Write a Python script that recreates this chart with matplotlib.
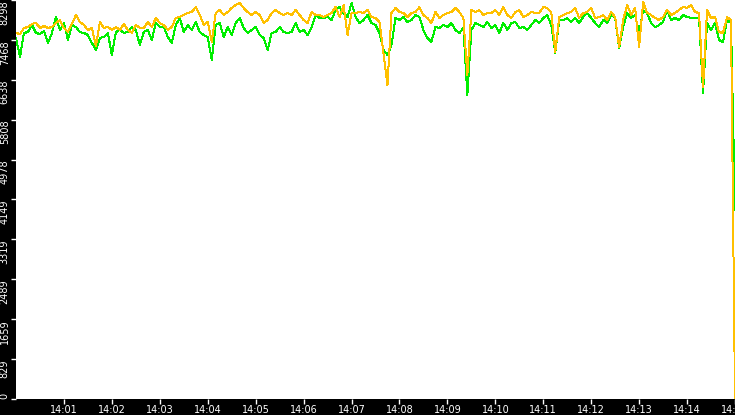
import matplotlib
matplotlib.use("Agg")
import matplotlib.pyplot as plt
import numpy as np

# one sample every 5 seconds, 14:00:00 .. 14:15:00
step_s = 5

orange_vals = [
    7612, 7591, 7716, 7736, 7799, 7820, 7716, 7757, 7716, 7736,
    7820, 7882, 7716, 7632, 7799, 7986, 7840, 7778, 7674, 7716,
    7341, 7840, 7716, 7736, 7674, 7736, 7674, 7799, 7674, 7612,
    7778, 7716, 7716, 7840, 7736, 7924, 7820, 7778, 7674, 7736,
    7924, 7944, 7986, 8028, 8048, 8152, 7986, 7778, 7840, 7425,
    8028, 8090, 7986, 8048, 8132, 8194, 8236, 8132, 8048, 7986,
    8048, 7986, 7820, 7882, 8028, 8090, 8028, 7986, 8028, 7986,
    8090, 7986, 7882, 7820, 8048, 7986, 7986, 7944, 7986, 8028,
    8152, 7944, 8194, 7570, 8028, 8028, 8048, 8028, 8090, 7944,
    7924, 7840, 7196, 6530, 8028, 8132, 8048, 8028, 7944, 8028,
    8048, 8152, 7986, 7924, 7820, 8048, 7924, 7986, 8028, 8048,
    8132, 8048, 7924, 6738, 8090, 8048, 8090, 7986, 8028, 8028,
    8090, 7986, 8152, 7986, 7924, 8048, 8090, 7944, 7986, 8048,
    8028, 8028, 8152, 8132, 8048, 7217, 7944, 7986, 8028, 8048,
    8132, 7924, 8028, 8048, 8132, 7924, 7944, 7986, 7882, 8048,
    7944, 7321, 7882, 8194, 7986, 8132, 7321, 8256, 8028, 7986,
    7924, 7882, 7944, 8090, 7986, 8028, 8090, 8152, 8132, 8194,
    8048, 8028, 6488, 8090, 7924, 7944, 7632, 7612, 7944, 7882, 0,
]

green_vals = [
    7508, 7112, 7612, 7632, 7778, 7612, 7591, 7653, 7404, 7612,
    7944, 7674, 7820, 7466, 7778, 7736, 7632, 7612, 7570, 7404,
    7258, 7508, 7528, 7612, 7154, 7632, 7674, 7612, 7632, 7736,
    7674, 7362, 7632, 7674, 7466, 7820, 7736, 7736, 7528, 7404,
    7778, 7924, 7632, 7778, 7674, 7840, 7632, 7570, 7528, 7050,
    7778, 7820, 7528, 7736, 7570, 7820, 7924, 7716, 7612, 7674,
    7736, 7570, 7508, 7258, 7612, 7632, 7736, 7632, 7612, 7632,
    7820, 7632, 7674, 7570, 7736, 7986, 7924, 7924, 7944, 7882,
    8090, 8152, 8028, 7944, 8236, 7944, 7820, 7882, 7986, 7820,
    7778, 7612, 7258, 7154, 7362, 7924, 7882, 7944, 7840, 7882,
    7986, 7944, 7674, 7508, 7425, 7736, 7716, 7778, 7736, 7820,
    7674, 7612, 7716, 6322, 7674, 7820, 7778, 7736, 7840, 7716,
    7778, 7612, 7820, 7674, 7820, 7840, 7716, 7736, 7674, 7778,
    7882, 7820, 7924, 7986, 7778, 7196, 7882, 7882, 7924, 7840,
    7924, 7820, 7944, 8028, 7924, 7820, 7736, 7882, 7820, 7986,
    7924, 7300, 7736, 8028, 7924, 7986, 7612, 8090, 8028, 7820,
    7736, 7778, 7840, 8090, 7882, 7924, 7882, 7986, 7944, 7924,
    7924, 7924, 6363, 7820, 7674, 7820, 7466, 7425, 7882, 7820, 3930,
]

y_max = 8298
y_ticks = [0, 829.8, 1659.6, 2489.4, 3319.2, 4149, 4978.8, 5808.6, 6638.4, 7468.2, 8298]
y_labels = ["0", "829", "1659", "2489", "3319", "4149", "4978", "5808", "6638", "7468", "8298"]

x_ticks = [60, 120, 180, 240, 300, 360, 420, 480, 540, 600, 660, 720, 780, 840, 900]
x_labels = ["14:01", "14:02", "14:03", "14:04", "14:05", "14:06", "14:07", "14:08",
            "14:09", "14:10", "14:11", "14:12", "14:13", "14:14", "14:15"]

t = np.arange(len(orange_vals)) * step_s

fig = plt.figure(figsize=(7.35, 4.15), dpi=100, facecolor="black")
ax = fig.add_axes([16 / 735, 16 / 415, 719 / 735, 399 / 415])
ax.set_facecolor("white")

ax.plot(t, green_vals, color="#00ee00", lw=0.72, antialiased=False)
ax.plot(t, orange_vals, color="#ffc000", lw=0.72, antialiased=False)

ax.set_xlim(0, 900)
ax.set_ylim(0, y_max)
for s in ax.spines.values():
    s.set_visible(False)

ax.set_xticks(x_ticks)
ax.set_xticklabels(x_labels)
ax.set_yticks(y_ticks)
ax.set_yticklabels(y_labels, rotation=90)
for lab in ax.get_yticklabels():
    lab.set_va("top" if lab.get_text() != "0" else "bottom")

ax.tick_params(direction="out", length=3.5, width=1, color="white",
               labelcolor="white", labelsize=7, pad=1)

fig.savefig("out.png", dpi=100, facecolor="black")
